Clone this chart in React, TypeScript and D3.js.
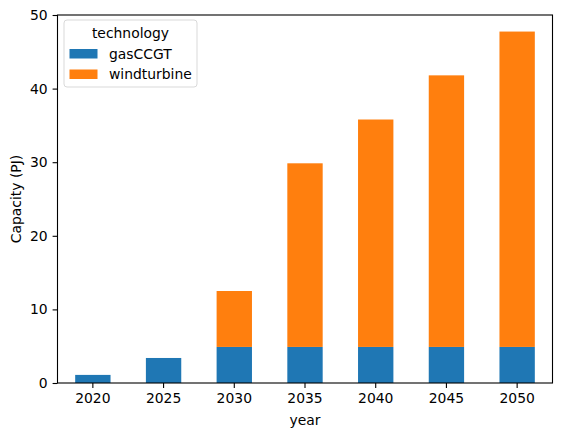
import { useEffect, useRef } from "react";
import * as d3 from "d3";

const years = ["2020", "2025", "2030", "2035", "2040", "2045", "2050"];
const gasCCGT = [1.1, 3.4, 4.9, 4.9, 4.9, 4.9, 4.9];
const windturbine = [0, 0, 7.6, 24.95, 30.9, 36.9, 42.85];
const technologies = ["gasCCGT", "windturbine"];
const colors = ["#1f77b4", "#ff7f0e"];
const yTicks = [0, 10, 20, 30, 40, 50];

const App: React.FC = () => {
  const svgRef = useRef<SVGSVGElement | null>(null);

  useEffect(() => {
    if (!svgRef.current) return;
    const W = 562;
    const H = 436;
    const margin = { top: 15, right: 9.5, bottom: 53, left: 57.5 };
    const width = W - margin.left - margin.right;
    const height = H - margin.top - margin.bottom;
    const font = "DejaVu Sans, sans-serif";
    const fs = 13.9;

    const root = d3.select(svgRef.current);
    root.selectAll("*").remove();
    root.attr("width", W).attr("height", H);
    root.append("rect").attr("width", W).attr("height", H).attr("fill", "#fff");

    const svg = root
      .append("g")
      .attr("transform", `translate(${margin.left},${margin.top})`);

    const xScale = d3.scaleBand().domain(years).range([0, width]).paddingInner(0.5).paddingOuter(0.25);
    const yScale = d3.scaleLinear().domain([0, 50]).range([height, 0]);

    const rows = years.map((y, i) => ({ year: y, gasCCGT: gasCCGT[i], windturbine: windturbine[i] }));
    const stacked = d3.stack<any>().keys(technologies)(rows);

    svg
      .selectAll(".series")
      .data(stacked)
      .enter()
      .append("g")
      .attr("fill", (_d, i) => colors[i])
      .selectAll("rect")
      .data((d) => d)
      .enter()
      .append("rect")
      .attr("x", (d) => xScale(d.data.year) || 0)
      .attr("width", xScale.bandwidth())
      .attr("y", (d) => yScale(d[1]))
      .attr("height", (d) => yScale(d[0]) - yScale(d[1]));

    // axes
    const xAxis = svg
      .append("g")
      .attr("transform", `translate(0,${height})`)
      .call(d3.axisBottom(xScale).tickSize(4.9).tickPadding(4.9));
    const yAxis = svg
      .append("g")
      .call(d3.axisLeft(yScale).tickValues(yTicks).tickSize(4.9).tickPadding(4.9));
    [xAxis, yAxis].forEach((a) => {
      a.select(".domain").remove();
      a.selectAll("line").attr("stroke", "#000").attr("stroke-width", 1.1);
      a.selectAll("text").attr("font-family", font).attr("font-size", fs).attr("fill", "#000");
    });

    svg
      .append("rect")
      .attr("width", width)
      .attr("height", height)
      .attr("fill", "none")
      .attr("stroke", "#000")
      .attr("stroke-width", 1.1);

    svg
      .append("text")
      .attr("x", width / 2)
      .attr("y", height + 42)
      .attr("text-anchor", "middle")
      .attr("font-family", font)
      .attr("font-size", fs)
      .text("year");

    svg
      .append("text")
      .attr("transform", `translate(${-37},${height / 2}) rotate(-90)`)
      .attr("text-anchor", "middle")
      .attr("font-family", font)
      .attr("font-size", fs)
      .text("Capacity (PJ)");

    // legend
    const lg = svg.append("g").attr("transform", `translate(6.5,5)`);
    lg.append("rect")
      .attr("width", 133)
      .attr("height", 67)
      .attr("rx", 3)
      .attr("fill", "#fff")
      .attr("fill-opacity", 0.8)
      .attr("stroke", "#d9d9d9")
      .attr("stroke-width", 1);
    lg.append("text")
      .attr("x", 66.5)
      .attr("y", 17.5)
      .attr("text-anchor", "middle")
      .attr("font-family", font)
      .attr("font-size", fs)
      .text("technology");
    technologies.forEach((t, i) => {
      lg.append("rect")
        .attr("x", 5.5)
        .attr("y", 29 + i * 20.5)
        .attr("width", 28)
        .attr("height", 9.5)
        .attr("fill", colors[i]);
      lg.append("text")
        .attr("x", 45)
        .attr("y", 38.5 + i * 20.5)
        .attr("font-family", font)
        .attr("font-size", fs)
        .text(t);
    });
  }, []);

  return <svg ref={svgRef} style={{ position: "absolute", left: 0, top: 0 }}></svg>;
};

export default App;
